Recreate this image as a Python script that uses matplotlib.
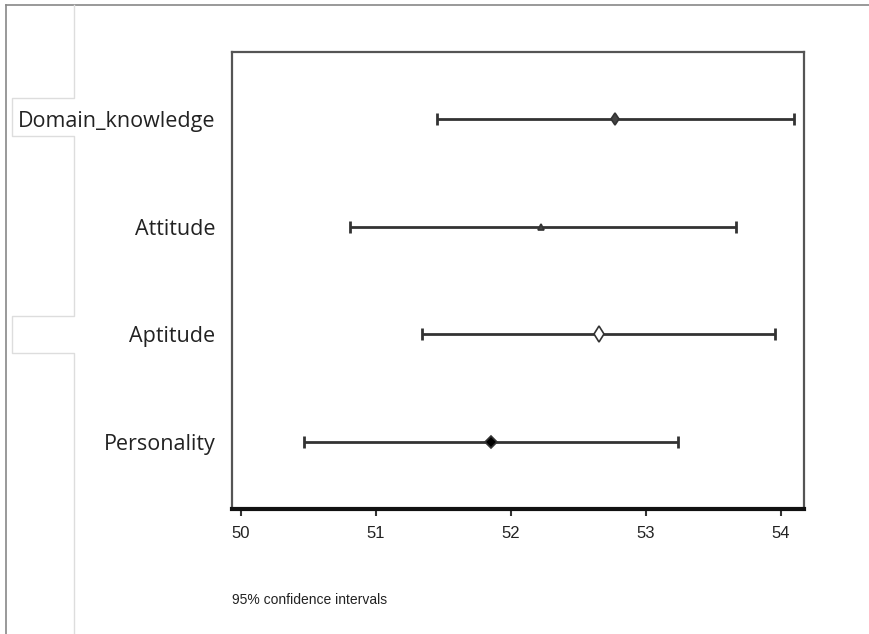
import matplotlib
matplotlib.use("Agg")
import matplotlib.pyplot as plt
from matplotlib.lines import Line2D

# factors listed top to bottom
factors = ["Domain_knowledge", "Attitude", "Aptitude", "Personality"]
means = [52.77, 52.22, 52.65, 51.85]
lower = [51.45, 50.81, 51.34, 50.47]
upper = [54.10, 53.67, 53.96, 53.24]
xticks = [50, 51, 52, 53, 54]

# marker look per row (mimics the original output)
markers = ["d", "^", "d", "D"]
facecols = ["#444444", "#444444", "white", "black"]
msizes = [6, 4, 8, 6]

fig = plt.figure(figsize=(8.69, 6.34), dpi=100)
ax = fig.add_axes([0.267, 0.197, 0.658, 0.721])

ypos = list(range(len(factors), 0, -1))
for y, m, lo, hi, mk, fc, ms in zip(ypos, means, lower, upper, markers, facecols, msizes):
    ax.errorbar([m], [y], xerr=[[m - lo], [hi - m]], fmt="none",
                ecolor="#333333", elinewidth=2, capsize=4, capthick=2)
    ax.plot([m], [y], marker=mk, markersize=ms, markerfacecolor=fc,
            markeredgecolor="#333333", markeredgewidth=1.2, linestyle="none")

ax.set_xlim(49.933, 54.17)
ax.set_ylim(0.378, 4.622)
ax.set_xticks(xticks)
ax.set_xticklabels([str(t) for t in xticks],
                   family=["Liberation Sans Narrow", "Liberation Sans", "DejaVu Sans"],
                   fontsize=12, color="#222222")
ax.set_yticks(ypos)
ax.set_yticklabels(factors, family=["Open Sans", "DejaVu Sans"], fontsize=15.5,
                   color="#222222")
ax.tick_params(axis="y", length=0, pad=12)
ax.tick_params(axis="x", direction="out", length=5, width=1.5, color="#333333",
               pad=7)

for side in ["top", "left", "right"]:
    ax.spines[side].set_linewidth(1.6)
    ax.spines[side].set_color("#555555")
ax.spines["bottom"].set_linewidth(3)
ax.spines["bottom"].set_color("#111111")

fig.text(232 / 869, 1 - 600 / 634, "95% confidence intervals",
         family=["Liberation Sans Narrow", "Liberation Sans", "DejaVu Sans"],
         fontsize=10, color="#222222", va="center", ha="left")

# faint page frame and bracket lines from the source screenshot
W, H = 869.0, 634.0
def figline(xs, ys, c, lw):
    fig.add_artist(Line2D([x / W for x in xs], [1 - y / H for y in ys],
                          color=c, linewidth=lw, transform=fig.transFigure))

figline([6, 869], [5, 5], "#888888", 1.2)
figline([6, 6], [5, 634], "#888888", 1.2)
figline([74, 74, 12, 12, 74, 74, 12, 12, 74, 74],
        [5, 98, 98, 136, 136, 316, 316, 353, 353, 634], "#dddddd", 1)

fig.savefig("out.png", dpi=100)
